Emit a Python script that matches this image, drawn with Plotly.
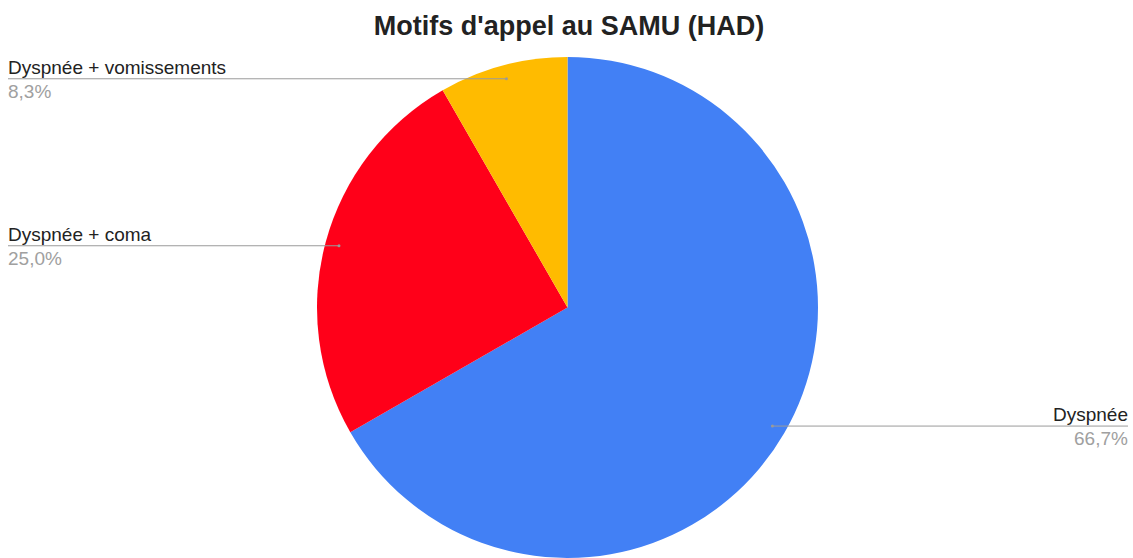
import math
import plotly.graph_objects as go

categories = ["Dyspnée", "Dyspnée + coma", "Dyspnée + vomissements"]
shares = [66.7, 25.0, 8.3]
colors = ["#4280F5", "#FF0019", "#FFBB00"]
title = "Motifs d'appel au SAMU (HAD)"

W, H = 1133, 558
M = dict(l=2, r=0, t=57, b=0)
PW, PH = W - M["l"] - M["r"], H - M["t"] - M["b"]
R = min(PW, PH) / 2
CX, CY = M["l"] + PW / 2, M["t"] + PH / 2


def px(x):
    return (x - M["l"]) / PW


def py(y):
    return 1 - (y - M["t"]) / PH


fig = go.Figure(go.Pie(
    labels=categories, values=shares, sort=False, direction="clockwise",
    marker=dict(colors=colors, line=dict(width=0)),
    textinfo="none", hoverinfo="label+percent", showlegend=False,
    domain=dict(x=[0, 1], y=[0, 1]),
))

shapes, annotations = [], []
total = sum(shares)
cum = 0
for lab, v in zip(categories, shares):
    a = 2 * math.pi * (cum + v / 2) / total
    cum += v
    ax = CX + 0.945 * R * math.sin(a)
    ay = CY - 0.945 * R * math.cos(a)
    right = math.sin(a) > 0
    x_end = 1128 if right else 8
    x_txt = 1130 if right else 6
    shapes.append(dict(type="line", xref="paper", yref="paper",
                       x0=px(ax), x1=px(x_end), y0=py(ay), y1=py(ay),
                       line=dict(color="#9a9a9a", width=1)))
    shapes.append(dict(type="circle", xref="paper", yref="paper",
                       x0=px(ax - 1.5), x1=px(ax + 1.5), y0=py(ay - 1.5), y1=py(ay + 1.5),
                       fillcolor="#9a9a9a", line=dict(width=0)))
    xa = "right" if right else "left"
    annotations.append(dict(text=lab, xref="paper", yref="paper", x=px(x_txt), y=py(ay + 1),
                            xanchor=xa, yanchor="bottom", showarrow=False,
                            font=dict(size=19, color="#222222")))
    annotations.append(dict(text=f"{v:.1f}%".replace(".", ","), xref="paper", yref="paper",
                            x=px(x_txt), y=py(ay + 0), xanchor=xa, yanchor="top",
                            showarrow=False, font=dict(size=19, color="#a0a0a0")))

fig.update_layout(
    width=W, height=H, margin=M,
    paper_bgcolor="white", plot_bgcolor="white",
    font=dict(family="Arial, Liberation Sans, sans-serif"),
    title=dict(text=f"<b>{title}</b>", x=569 / W, xanchor="center",
               y=1 - 26 / H, yanchor="middle", font=dict(size=27, color="#222222")),
    shapes=shapes, annotations=annotations,
)
fig.write_html("out.html", config={"displayModeBar": False},
               post_script="document.body.style.margin='0';")
